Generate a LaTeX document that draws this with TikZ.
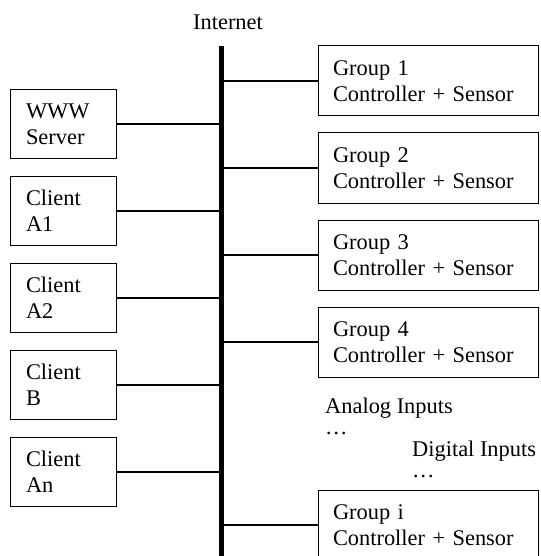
\documentclass[tikz,border=0pt]{standalone}
\usepackage{fontspec}
\setmainfont{Liberation Serif}
\begin{document}
\begin{tikzpicture}[x=1pt,y=-1pt,
  every node/.style={font=\fontsize{22.4}{26}\selectfont},
  hostbox/.style={draw=black,line width=1pt,minimum width=106pt,minimum height=69pt,
    text width=74pt,align=left,inner xsep=16pt,inner ysep=0pt},
  groupbox/.style={draw=black,line width=1pt,minimum width=220pt,minimum height=70pt,
    text width=190pt,align=left,inner xsep=15pt,inner ysep=0pt},
  link/.style={line width=1.3pt},
  label/.style={anchor=base west,inner sep=0pt}]
\clip (0,0) rectangle (540,556);
\fill[white] (0,0) rectangle (540,556);

% Internet backbone
\node[anchor=base,inner sep=0pt] (inet) at (228,30) {Internet};
\coordinate (bustop) at (221,46);
\coordinate (busbot) at (221,560);
\draw[line width=5pt] (bustop) -- (busbot);

% hosts on the left
\node[hostbox] (www) at (63,124) {WWW\\Server};
\node[hostbox] (ca1) at (63,211) {Client\\A1};
\node[hostbox] (ca2) at (63,298) {Client\\A2};
\node[hostbox] (cb)  at (63,385) {Client\\B};
\node[hostbox] (can) at (63,472) {Client\\An};

% controller groups on the right
\node[groupbox] (g1) at (428,81)  {Group 1\\Controller + Sensor};
\node[groupbox] (g2) at (428,168) {Group 2\\Controller + Sensor};
\node[groupbox] (g3) at (428,255) {Group 3\\Controller + Sensor};
\node[groupbox] (g4) at (428,342) {Group 4\\Controller + Sensor};
\node[groupbox] (gi) at (428,525) {Group i\\Controller + Sensor};

% taps onto the backbone
\foreach \n in {www,ca1,ca2,cb,can}
  \draw[link] (\n.east) -- (\n.east -| bustop);
\foreach \n in {g1,g2,g3,g4,gi}
  \draw[link] (\n.west) -- (\n.west -| bustop);

% inputs between the groups
\node[label] (ana) at (325,413) {Analog Inputs};
\node[label] (dota) at (325,434) {\dots};
\node[label] (dig) at (412,456) {Digital Inputs};
\node[label] (dotd) at (412,477) {\dots};
\end{tikzpicture}
\end{document}
